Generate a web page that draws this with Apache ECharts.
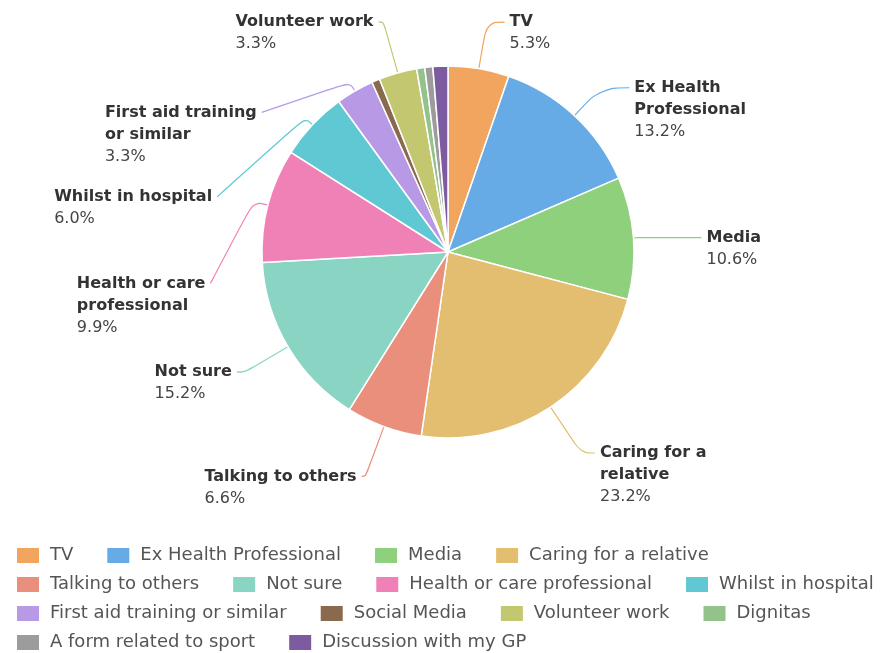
<!DOCTYPE html>
<html>
<head>
<meta charset="utf-8">
<script src="https://cdn.jsdelivr.net/npm/echarts@6/dist/echarts.min.js"></script>
<style>
  html, body { margin: 0; padding: 0; background: #fff; }
  #chart { width: 887px; height: 653px; }
</style>
</head>
<body>
<div id="chart"></div>
<script>
// Sources of awareness, share of respondents (%)
const categories = [
  'TV', 'Ex Health Professional', 'Media', 'Caring for a relative',
  'Talking to others', 'Not sure', 'Health or care professional', 'Whilst in hospital',
  'First aid training or similar', 'Social Media', 'Volunteer work', 'Dignitas',
  'A form related to sport', 'Discussion with my GP'
];
const shares = [5.3, 13.2, 10.6, 23.2, 6.6, 15.2, 9.9, 6.0, 3.3, 0.7, 3.3, 0.7, 0.7, 1.3];
// Slice label text, wrapped by hand; null = no label on that slice
const sliceLabels = [
  'TV', 'Ex Health\nProfessional', 'Media', 'Caring for a\nrelative',
  'Talking to others', 'Not sure', 'Health or care\nprofessional', 'Whilst in hospital',
  'First aid training\nor similar', null, 'Volunteer work', null,
  null, null
];
const colors = [
  '#f2a55f', '#66aae6', '#8fd07c', '#e3be70',
  '#ea8f7b', '#8ad4c3', '#f081b7', '#5fc8d3',
  '#b899e6', '#8a6a4e', '#c3c76f', '#93c28b',
  '#9c9c9c', '#7d5ba1'
];

const LINE_H = 22;

// Leader-line styling per labelled slice: radial length, horizontal length,
// and how far the label hangs below the natural end of the line.
const leader = {
  'TV':                            { length: 47, length2: 18, drop: 0 },
  'Ex Health Professional':        { length: 38, length2: 29, drop: 0 },
  'Media':                         { length: 5,  length2: 63, drop: 0 },
  'Caring for a relative':         { length: 55, length2: 14, drop: 0 },
  'Talking to others':             { length: 53, length2: 4,  drop: 0 },
  'Not sure':                      { length: 50, length2: 8,  drop: 0 },
  'Health or care professional':   { length: 15, length2: 43, drop: 82 },
  'Whilst in hospital':            { length: 10, length2: 88, drop: 79 },
  'First aid training or similar': { length: 10, length2: 88, drop: 30 },
  'Volunteer work':                { length: 53, length2: 5,  drop: 0 }
};

const data = categories.map((name, i) => {
  const text = sliceLabels[i];
  if (text === null) {
    return { name, value: shares[i], label: { show: false }, labelLine: { show: false } };
  }
  const lines = text.split('\n').length + 1;
  const lk = leader[name];
  // top padding puts the first text line level with the end of the leader line
  const padTop = (lines - 1) * LINE_H + 2 * lk.drop;
  return {
    name,
    value: shares[i],
    label: { show: true, padding: [padTop, 0, 0, 0] },
    labelLine: { show: true, length: lk.length, length2: lk.length2 }
  };
});

const legendRows = [];
for (let i = 0; i < categories.length; i += 4) legendRows.push(categories.slice(i, i + 4));

const chart = echarts.init(document.getElementById('chart'));
chart.setOption({
  animation: false,
  color: colors,
  legend: legendRows.map((row, r) => ({
    left: 10,
    top: 541 + r * 29,
    itemWidth: 24,
    itemHeight: 17,
    itemGap: 32,
    icon: 'rect',
    textStyle: { fontFamily: 'DejaVu Sans', fontSize: 18, color: '#555', padding: [0, 0, 0, 5] },
    data: row
  })),
  series: [{
    type: 'pie',
    center: [448, 252],
    radius: [0, 186],
    startAngle: 90,
    clockwise: true,
    avoidLabelOverlap: false,
    itemStyle: { borderColor: '#fff', borderWidth: 1.5 },
    label: {
      position: 'outside',
      formatter: p => {
        const t = sliceLabels[p.dataIndex];
        if (t === null) return '';
        return t.split('\n').map(s => '{n|' + s + '}').join('\n') + '\n{p|' + p.value.toFixed(1) + '%}';
      },
      rich: {
        n: { fontFamily: 'DejaVu Sans', fontWeight: 'bold', fontSize: 16, color: '#333', lineHeight: LINE_H, align: 'left' },
        p: { fontFamily: 'DejaVu Sans', fontSize: 16, color: '#444', lineHeight: LINE_H, align: 'left' }
      }
    },
    labelLine: {
      smooth: 0.4,
      lineStyle: { width: 1.2 }
    },
    labelLayout: params => {
      const name = categories[params.dataIndex];
      const lk = leader[name];
      if (!lk || !lk.drop || !params.labelLinePoints) return {};
      const pts = params.labelLinePoints.map(p => [p[0], p[1]]);
      pts[2][1] += lk.drop;
      return { labelLinePoints: pts };
    },
    data
  }]
});
</script>
</body>
</html>
